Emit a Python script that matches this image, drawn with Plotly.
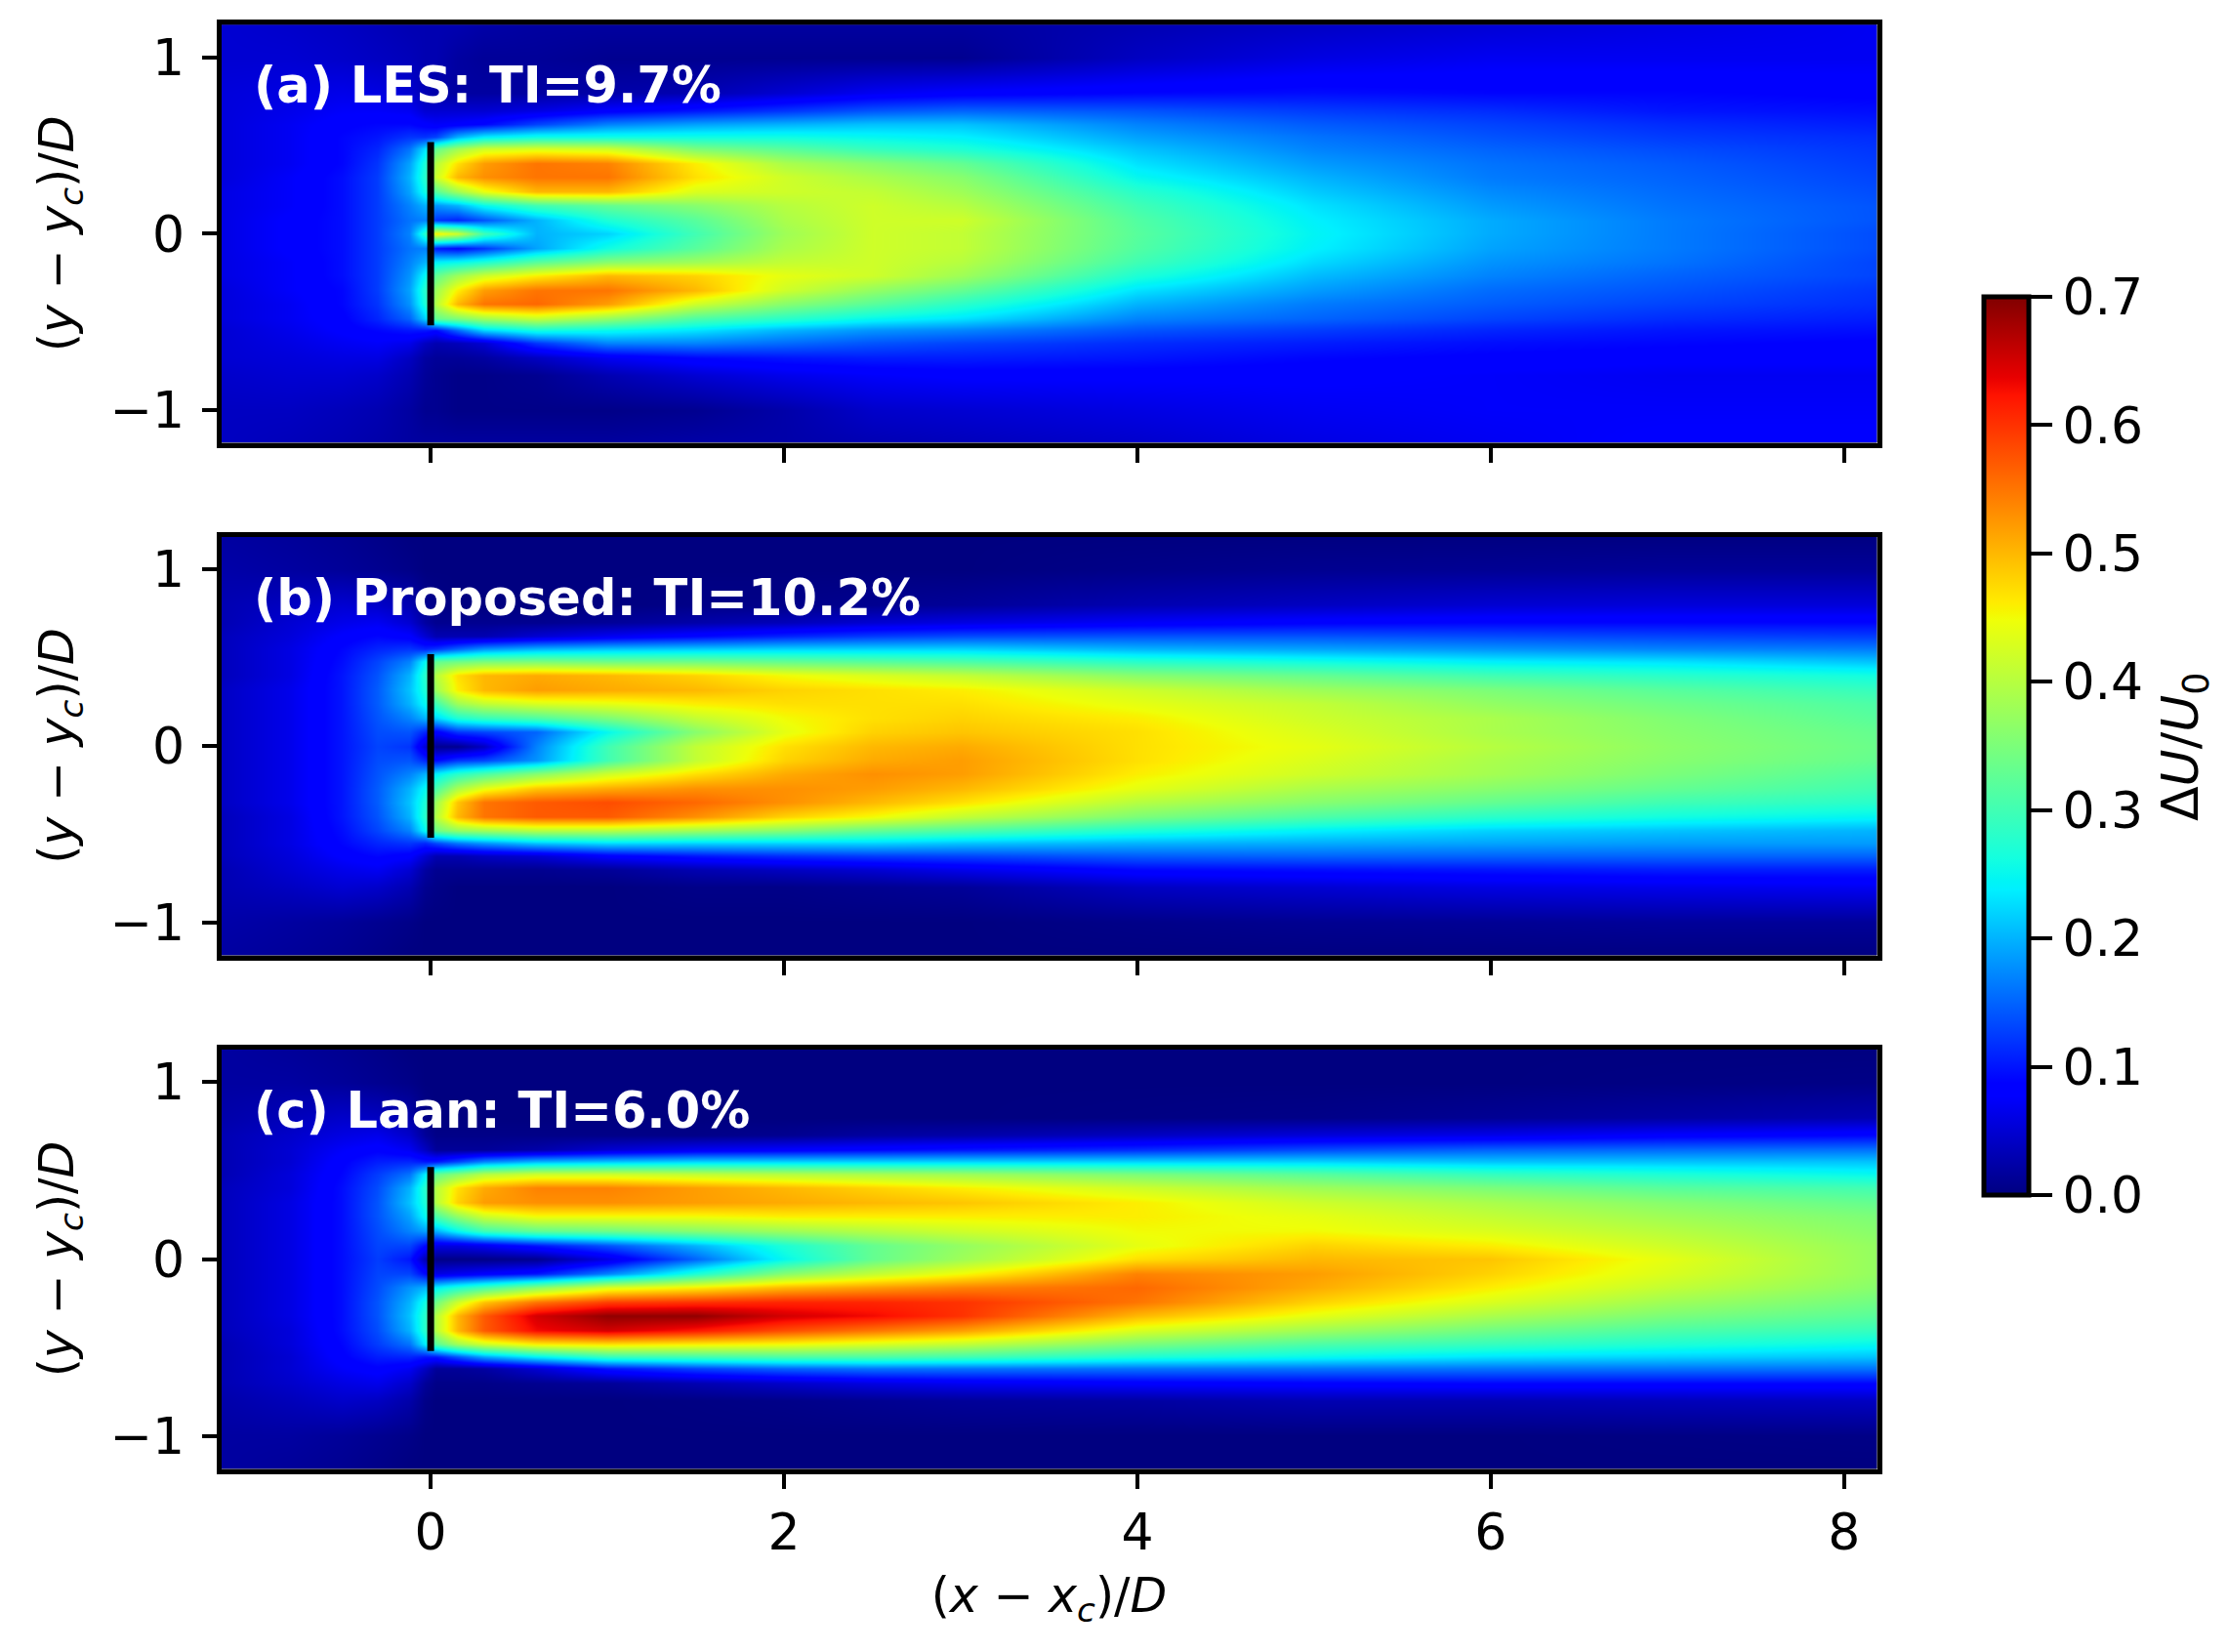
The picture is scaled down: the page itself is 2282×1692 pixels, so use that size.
import plotly.graph_objects as go

# Streamwise and lateral stations (units of D)
x_stations = [-1.2,-0.8,-0.5,-0.3,-0.12,-0.03,0.03,0.15,0.3,0.6,1.0,1.5,2,2.5,3,4,5,6,7,8.2]
y_stations = [1.2,1.0,0.8,0.7,0.62,0.55,0.48,0.40,0.32,0.24,0.16,0.08,0,-0.08,-0.16,-0.24,-0.32,-0.40,-0.48,-0.55,-0.62,-0.7,-0.8,-1.0,-1.2]

les_rows = [
[.05,.045,.04,.035,.03,.03,.03,.03,.025,.02,.02,.02,.02,.02,.02,.03,.04,.05,.06,.07],
[.05,.05,.045,.04,.035,.03,.03,.02,.015,.015,.01,.01,.01,.01,.01,.04,.06,.07,.07,.07],
[.055,.06,.065,.06,.05,.03,.025,.02,.02,.02,.025,.03,.05,.07,.08,.09,.095,.09,.09,.085],
[.055,.065,.075,.075,.07,.05,.05,.05,.05,.06,.08,.1,.12,.14,.15,.14,.125,.115,.1,.095],
[.055,.07,.085,.09,.09,.08,.075,.08,.09,.13,.17,.19,.2,.21,.21,.17,.145,.13,.115,.105],
[.055,.07,.09,.10,.12,.12,.13,.2,.24,.26,.26,.26,.26,.25,.24,.19,.16,.14,.125,.115],
[.055,.07,.09,.11,.16,.23,.33,.38,.42,.43,.42,.35,.32,.29,.27,.21,.17,.15,.135,.12],
[.055,.07,.09,.12,.19,.27,.40,.47,.52,.55,.54,.46,.39,.36,.33,.23,.185,.16,.145,.125],
[.055,.075,.095,.125,.2,.28,.42,.50,.53,.55,.55,.47,.42,.39,.36,.25,.2,.165,.15,.13],
[.06,.075,.095,.125,.19,.26,.32,.38,.44,.50,.50,.43,.42,.41,.38,.28,.215,.175,.155,.135],
[.06,.075,.095,.125,.17,.2,.18,.2,.25,.3,.33,.36,.40,.42,.40,.30,.23,.185,.16,.14],
[.06,.08,.095,.125,.16,.17,.12,.11,.14,.2,.27,.32,.39,.42,.42,.315,.24,.195,.165,.14],
[.06,.08,.095,.125,.17,.28,.46,.42,.3,.2,.22,.3,.38,.42,.41,.32,.245,.195,.165,.135],
[.06,.08,.095,.125,.16,.17,.1,.09,.12,.19,.26,.32,.39,.42,.41,.315,.24,.19,.165,.135],
[.06,.075,.095,.125,.17,.2,.24,.25,.27,.32,.36,.38,.41,.42,.4,.30,.225,.18,.16,.13],
[.06,.075,.095,.125,.18,.25,.33,.38,.42,.46,.50,.48,.44,.42,.38,.27,.205,.17,.15,.13],
[.055,.075,.09,.125,.19,.28,.38,.46,.52,.55,.55,.50,.42,.37,.33,.23,.185,.155,.14,.12],
[.055,.07,.09,.12,.18,.27,.40,.50,.55,.56,.52,.42,.36,.32,.28,.2,.165,.145,.13,.115],
[.055,.07,.085,.11,.15,.22,.33,.35,.38,.41,.37,.31,.28,.25,.23,.17,.15,.13,.115,.105],
[.05,.065,.08,.09,.10,.10,.09,.15,.22,.26,.25,.23,.2,.18,.17,.14,.125,.11,.1,.095],
[.05,.06,.07,.075,.065,.04,.03,.035,.05,.12,.17,.17,.155,.14,.13,.115,.105,.095,.09,.085],
[.05,.055,.06,.06,.04,.02,.015,.015,.02,.04,.07,.09,.1,.105,.105,.10,.09,.085,.08,.08],
[.045,.05,.05,.045,.03,.015,.01,.005,.005,.01,.03,.05,.065,.075,.08,.08,.08,.075,.07,.07],
[.04,.04,.035,.03,.02,.01,.01,.005,.005,.005,.005,.01,.025,.045,.05,.06,.07,.075,.075,.075],
[.04,.035,.03,.025,.02,.02,.02,.02,.02,.02,.02,.025,.025,.03,.035,.045,.06,.07,.08,.08],
]

proposed_rows = [
[.02,.015,.01,.005,0,0,0,0,0,0,0,0,0,0,0,0,0,0,0,0],
[.025,.02,.015,.01,.005,0,0,0,0,0,0,0,0,0,0,.005,.01,.012,.015,.015],
[.03,.04,.05,.045,.03,.01,.005,0,0,0,0,.005,.005,.01,.015,.03,.04,.05,.055,.055],
[.03,.05,.065,.07,.05,.02,.01,.01,.01,.01,.015,.025,.035,.05,.06,.075,.085,.09,.09,.09],
[.035,.055,.08,.09,.08,.05,.03,.03,.03,.05,.07,.09,.11,.125,.135,.14,.14,.135,.13,.125],
[.035,.06,.09,.11,.12,.11,.12,.15,.18,.2,.21,.215,.22,.22,.22,.2,.19,.18,.17,.165],
[.035,.06,.095,.13,.17,.25,.33,.34,.35,.35,.34,.34,.33,.32,.31,.28,.26,.24,.23,.21],
[.035,.06,.10,.14,.2,.28,.40,.47,.50,.51,.5,.48,.45,.43,.41,.36,.33,.3,.28,.26],
[.04,.065,.10,.145,.21,.27,.38,.46,.5,.52,.51,.5,.48,.47,.46,.42,.38,.35,.32,.29],
[.04,.065,.10,.145,.2,.25,.30,.38,.41,.43,.44,.46,.47,.47,.47,.44,.41,.37,.34,.31],
[.04,.065,.10,.14,.17,.2,.22,.27,.29,.31,.35,.41,.45,.47,.48,.46,.42,.39,.355,.32],
[.04,.065,.10,.135,.14,.11,.08,.12,.13,.15,.25,.36,.44,.48,.49,.47,.43,.39,.36,.33],
[.04,.065,.10,.13,.12,.05,.01,.01,.04,.17,.3,.41,.47,.5,.51,.47,.44,.40,.365,.335],
[.04,.065,.10,.135,.14,.11,.09,.12,.13,.18,.3,.41,.48,.51,.52,.47,.43,.39,.36,.33],
[.04,.065,.10,.14,.17,.2,.24,.28,.31,.36,.42,.47,.51,.53,.52,.46,.42,.385,.35,.315],
[.04,.065,.10,.145,.2,.25,.31,.39,.44,.49,.51,.53,.53,.52,.5,.44,.39,.36,.33,.30],
[.04,.065,.10,.145,.21,.27,.38,.49,.55,.57,.58,.56,.53,.50,.47,.40,.36,.33,.3,.28],
[.035,.06,.10,.14,.2,.28,.40,.50,.55,.57,.57,.53,.48,.45,.41,.35,.31,.28,.26,.245],
[.035,.06,.095,.13,.17,.25,.34,.37,.38,.40,.40,.38,.36,.33,.31,.27,.24,.22,.21,.2],
[.035,.06,.09,.11,.12,.11,.13,.16,.18,.21,.225,.22,.22,.22,.21,.2,.195,.19,.185,.185],
[.035,.055,.08,.09,.08,.05,.03,.03,.04,.05,.08,.1,.115,.125,.13,.145,.15,.15,.15,.15],
[.03,.05,.065,.07,.05,.02,.01,.01,.01,.01,.015,.03,.04,.05,.065,.09,.095,.1,.105,.105],
[.03,.04,.05,.045,.03,.01,.005,0,0,0,0,.005,.005,.01,.015,.04,.05,.06,.065,.07],
[.025,.02,.015,.01,.005,0,0,0,0,0,0,0,0,0,0,.005,.01,.012,.015,.015],
[.02,.015,.01,.005,0,0,0,0,0,0,0,0,0,0,0,0,0,0,0,0],
]

laan_rows = [
[.02,.015,.01,.005,0,0,0,0,0,0,0,0,0,0,0,0,0,0,0,0],
[.02,.02,.015,.01,.005,0,0,0,0,0,0,0,0,0,0,0,0,0,.002,.004],
[.025,.035,.045,.04,.025,.005,0,0,0,0,0,0,0,0,0,.002,.005,.012,.02,.03],
[.03,.045,.06,.065,.045,.015,.005,.005,.005,.005,.005,.005,.01,.02,.025,.04,.055,.065,.08,.09],
[.03,.05,.075,.085,.07,.04,.015,.015,.015,.025,.05,.07,.08,.09,.1,.115,.135,.15,.155,.16],
[.03,.05,.085,.105,.11,.10,.1,.13,.17,.2,.21,.22,.22,.22,.22,.22,.22,.21,.21,.21],
[.03,.055,.09,.125,.16,.24,.33,.36,.40,.42,.42,.41,.40,.39,.38,.35,.32,.29,.27,.25],
[.035,.055,.095,.135,.2,.28,.40,.47,.51,.54,.54,.52,.5,.48,.46,.42,.38,.35,.32,.3],
[.035,.06,.095,.14,.21,.27,.40,.48,.52,.53,.53,.52,.51,.5,.49,.46,.42,.39,.36,.33],
[.035,.06,.095,.14,.19,.25,.31,.37,.42,.45,.45,.45,.46,.46,.46,.46,.44,.41,.38,.35],
[.035,.06,.095,.135,.17,.19,.2,.25,.3,.33,.34,.36,.38,.4,.42,.45,.45,.43,.4,.36],
[.035,.06,.095,.13,.13,.09,.06,.06,.07,.1,.14,.2,.27,.33,.37,.44,.48,.46,.42,.37],
[.035,.06,.095,.125,.1,.03,.005,.005,.005,.01,.06,.15,.25,.33,.38,.47,.5,.49,.44,.37],
[.035,.06,.095,.13,.13,.09,.06,.07,.08,.1,.17,.27,.36,.41,.45,.54,.52,.48,.43,.37],
[.035,.06,.095,.135,.18,.2,.24,.27,.3,.36,.43,.46,.5,.52,.54,.56,.51,.46,.41,.36],
[.035,.06,.095,.14,.2,.26,.34,.42,.49,.55,.59,.6,.61,.61,.6,.55,.48,.43,.38,.34],
[.035,.06,.095,.14,.21,.28,.40,.5,.57,.65,.69,.69,.65,.63,.6,.5,.44,.39,.35,.32],
[.035,.055,.095,.135,.2,.28,.40,.5,.57,.63,.65,.62,.58,.55,.52,.43,.38,.34,.31,.29],
[.03,.055,.09,.125,.16,.24,.32,.38,.42,.46,.47,.46,.45,.43,.41,.35,.31,.29,.27,.25],
[.03,.05,.085,.105,.11,.10,.1,.14,.19,.24,.29,.3,.31,.31,.3,.27,.25,.23,.22,.21],
[.03,.05,.075,.085,.07,.04,.015,.015,.02,.05,.1,.13,.15,.16,.16,.16,.16,.16,.16,.16],
[.03,.045,.06,.065,.045,.015,.005,.005,.005,.01,.015,.03,.045,.06,.07,.08,.085,.09,.09,.09],
[.025,.035,.045,.04,.025,.005,0,0,0,0,0,.002,.005,.01,.015,.02,.03,.03,.035,.04],
[.02,.02,.015,.01,.005,0,0,0,0,0,0,0,0,0,0,0,0,0,.002,.004],
[.02,.015,.01,.005,0,0,0,0,0,0,0,0,0,0,0,0,0,0,0,0],
]

panel_labels = ["(a) LES: TI=9.7%", "(b) Proposed: TI=10.2%", "(c) Laan: TI=6.0%"]
x_ticks = [0, 2, 4, 6, 8]
y_ticks = [-1, 0, 1]
cbar_ticks = [0.0, 0.1, 0.2, 0.3, 0.4, 0.5, 0.6, 0.7]
rotor_y = [-0.52, 0.52]
rotor_x = [0, 0]

for rows in (les_rows, proposed_rows, laan_rows):
    assert len(rows) == len(y_stations)
    assert all(len(r) == len(x_stations) for r in rows)

W, H = 2282, 1692
FONT = "DejaVu Sans"
TICK = 52
BLACK = "#000000"

def rgb(r, g, b):
    return "rgb(%d,%d,%d)" % (r, g, b)

jet = [
    [0.00, rgb(0, 0, 128)], [0.11, rgb(0, 0, 255)], [0.125, rgb(0, 0, 255)],
    [0.34, rgb(0, 240, 255)], [0.35, rgb(0, 245, 245)], [0.375, rgb(20, 255, 223)],
    [0.64, rgb(239, 255, 8)], [0.65, rgb(247, 245, 0)], [0.66, rgb(255, 235, 0)],
    [0.89, rgb(255, 19, 0)], [0.91, rgb(232, 0, 0)], [1.00, rgb(128, 0, 0)],
]

fig = go.Figure()
# inner plot areas in pixels: the 5 px frame lines are drawn outside them
domains_y = [(25.2, 453.5), (549.5, 978.5), (1074.5, 1504.5)]
names = ["", "2", "3"]
for i, rows in enumerate((les_rows, proposed_rows, laan_rows)):
    fig.add_trace(go.Heatmap(
        x=x_stations, y=y_stations[::-1], z=rows[::-1],
        coloraxis="coloraxis", zsmooth="best",
        xaxis="x" + names[i], yaxis="y" + names[i], showscale=False,
    ))
    fig.add_trace(go.Scatter(
        x=rotor_x, y=rotor_y, mode="lines", line=dict(color=BLACK, width=7),
        xaxis="x" + names[i], yaxis="y" + names[i], showlegend=False, hoverinfo="skip",
    ))

layout = dict(
    width=W, height=H, autosize=False,
    margin=dict(l=0, r=0, t=0, b=0, pad=0),
    paper_bgcolor="white", plot_bgcolor=BLACK,
    font=dict(family=FONT, size=TICK, color=BLACK),
    showlegend=False,
    coloraxis=dict(
        colorscale=jet, cmin=0, cmax=0.7,
        colorbar=dict(
            x=2031.5 / W, xanchor="left", xpad=0,
            y=1 - 764 / H, yanchor="middle", ypad=0,
            lenmode="pixels", len=920, thicknessmode="pixels", thickness=46,
            outlinecolor=BLACK, outlinewidth=5, borderwidth=0,
            ticks="outside", ticklen=22, tickwidth=4, tickcolor=BLACK,
            tickvals=cbar_ticks, ticktext=["%.1f" % t for t in cbar_ticks],
            tickfont=dict(family=FONT, size=TICK, color=BLACK),
        ),
    ),
)
for i, (top, bot) in enumerate(domains_y):
    s = names[i]
    y_title = "(<i>y</i> − <i>y<sub>c</sub></i>)/<i>D</i>"
    x_title = "(<i>x</i> − <i>x<sub>c</sub></i>)/<i>D</i>"
    layout["xaxis" + s] = dict(
        domain=[226.5 / W, 1922.5 / W], anchor="y" + s, range=[-1.186, 8.186],
        tickvals=x_ticks, ticks="outside", ticklen=15, tickwidth=4, tickcolor=BLACK,
        showticklabels=(i == 2), showgrid=False, zeroline=False,
        showline=True, mirror=True, linecolor=BLACK, linewidth=5,
        tickfont=dict(family=FONT, size=TICK, color=BLACK),
        automargin=False,
        **({"title": dict(text=x_title, standoff=20, font=dict(family=FONT, size=49, color=BLACK))} if i == 2 else {}),
    )
    layout["yaxis" + s] = dict(
        domain=[1 - bot / H, 1 - top / H], anchor="x" + s, range=[-1.186, 1.186],
        tickvals=y_ticks, ticktext=["−1", "0", "1"],
        ticks="outside", ticklen=15, tickwidth=4, tickcolor=BLACK, ticklabelstandoff=7,
        showgrid=False, zeroline=False,
        showline=True, mirror=True, linecolor=BLACK, linewidth=5,
        tickfont=dict(family=FONT, size=TICK, color=BLACK),
        automargin=False,
        title=dict(text=y_title, standoff=23, font=dict(family=FONT, size=49, color=BLACK)),
    )
fig.update_layout(**layout)

for i, label in enumerate(panel_labels):
    fig.add_annotation(
        text=label, xref="x" + names[i], yref="y" + names[i],
        x=-1.01, y=0.84, xanchor="left", yanchor="middle", showarrow=False,
        font=dict(family=FONT, size=51, color="white", weight="bold"),
    )

fig.add_annotation(
    text="Δ<i>U</i>/<i>U</i><sub>0</sub>", xref="paper", yref="paper",
    x=2237 / W, y=1 - 765 / H, xanchor="center", yanchor="middle",
    textangle=-90, showarrow=False,
    font=dict(family=FONT, size=52, color=BLACK),
)

fig.write_html("out.html", config={"displayModeBar": False},
               post_script="document.body.style.margin='0';")
